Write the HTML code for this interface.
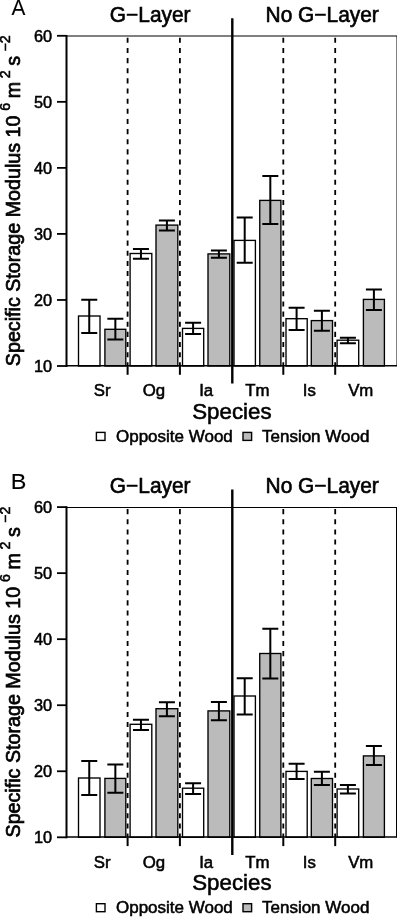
<!DOCTYPE html>
<html><head><meta charset="utf-8"><style>
html,body{margin:0;padding:0;background:#fff;}
svg{display:block;will-change:transform;}
text{font-family:"Liberation Sans", sans-serif;fill:#000;stroke:#000;}
</style></head><body>
<svg width="397" height="917" viewBox="0 0 397 917">
<rect width="397" height="917" fill="#fff"/>
<line x1="66" y1="36" x2="397" y2="36" stroke="#000" stroke-width="1"/>
<line x1="397" y1="36" x2="397" y2="366" stroke="#000" stroke-width="1"/>
<rect x="78.5" y="316" width="21.5" height="50" fill="#fff" stroke="#000" stroke-width="1.35"/>
<rect x="104.9" y="329.3" width="20.9" height="36.7" fill="#bbbbbb" stroke="#000" stroke-width="1.35"/>
<rect x="130.1" y="253.5" width="21.7" height="112.5" fill="#fff" stroke="#000" stroke-width="1.35"/>
<rect x="156" y="225.1" width="21.8" height="140.9" fill="#bbbbbb" stroke="#000" stroke-width="1.35"/>
<rect x="182.5" y="328.4" width="21.2" height="37.6" fill="#fff" stroke="#000" stroke-width="1.35"/>
<rect x="208" y="253.9" width="21.8" height="112.1" fill="#bbbbbb" stroke="#000" stroke-width="1.35"/>
<rect x="234" y="240.4" width="21.4" height="125.6" fill="#fff" stroke="#000" stroke-width="1.35"/>
<rect x="259.75" y="200.4" width="21.15" height="165.6" fill="#bbbbbb" stroke="#000" stroke-width="1.35"/>
<rect x="286" y="318.7" width="21.2" height="47.3" fill="#fff" stroke="#000" stroke-width="1.35"/>
<rect x="311.3" y="320.6" width="21.2" height="45.4" fill="#bbbbbb" stroke="#000" stroke-width="1.35"/>
<rect x="337.1" y="340.2" width="21.6" height="25.8" fill="#fff" stroke="#000" stroke-width="1.35"/>
<rect x="363.4" y="299.4" width="21" height="66.6" fill="#bbbbbb" stroke="#000" stroke-width="1.35"/>
<path d="M89.25 299.8V333.1M81.25 299.8H97.25M81.25 333.1H97.25" stroke="#000" stroke-width="2" fill="none"/>
<path d="M115.35 318.7V339.4M107.35 318.7H123.35M107.35 339.4H123.35" stroke="#000" stroke-width="2" fill="none"/>
<path d="M140.95 249V258.8M132.95 249H148.95M132.95 258.8H148.95" stroke="#000" stroke-width="2" fill="none"/>
<path d="M166.9 220.6V230.4M158.9 220.6H174.9M158.9 230.4H174.9" stroke="#000" stroke-width="2" fill="none"/>
<path d="M193.1 322.8V334M185.1 322.8H201.1M185.1 334H201.1" stroke="#000" stroke-width="2" fill="none"/>
<path d="M218.9 250.6V257.7M210.9 250.6H226.9M210.9 257.7H226.9" stroke="#000" stroke-width="2" fill="none"/>
<path d="M244.7 217.4V262.8M236.7 217.4H252.7M236.7 262.8H252.7" stroke="#000" stroke-width="2" fill="none"/>
<path d="M270.32 175.9V223.9M262.32 175.9H278.32M262.32 223.9H278.32" stroke="#000" stroke-width="2" fill="none"/>
<path d="M296.6 307.8V330.1M288.6 307.8H304.6M288.6 330.1H304.6" stroke="#000" stroke-width="2" fill="none"/>
<path d="M321.9 310.8V330.75M313.9 310.8H329.9M313.9 330.75H329.9" stroke="#000" stroke-width="2" fill="none"/>
<path d="M347.9 337.8V343.3M339.9 337.8H355.9M339.9 343.3H355.9" stroke="#000" stroke-width="2" fill="none"/>
<path d="M373.9 289.5V310M365.9 289.5H381.9M365.9 310H381.9" stroke="#000" stroke-width="2" fill="none"/>
<line x1="66" y1="365.7" x2="397" y2="365.7" stroke="#000" stroke-width="1.5"/>
<line x1="127.6" y1="37.8" x2="127.6" y2="366" stroke="#000" stroke-width="1.8" stroke-dasharray="5.07 5.07"/>
<line x1="127.6" y1="366" x2="127.6" y2="374.8" stroke="#000" stroke-width="2"/>
<line x1="179.9" y1="37.8" x2="179.9" y2="366" stroke="#000" stroke-width="1.8" stroke-dasharray="5.07 5.07"/>
<line x1="179.9" y1="366" x2="179.9" y2="374.8" stroke="#000" stroke-width="2"/>
<line x1="283.3" y1="37.8" x2="283.3" y2="366" stroke="#000" stroke-width="1.8" stroke-dasharray="5.07 5.07"/>
<line x1="283.3" y1="366" x2="283.3" y2="374.8" stroke="#000" stroke-width="2"/>
<line x1="335.2" y1="37.8" x2="335.2" y2="366" stroke="#000" stroke-width="1.8" stroke-dasharray="5.07 5.07"/>
<line x1="335.2" y1="366" x2="335.2" y2="374.8" stroke="#000" stroke-width="2"/>
<line x1="232.3" y1="18.2" x2="232.3" y2="383.6" stroke="#000" stroke-width="2.4"/>
<line x1="66.5" y1="35" x2="66.5" y2="367" stroke="#000" stroke-width="2"/>
<line x1="57" y1="366" x2="66.5" y2="366" stroke="#000" stroke-width="1.8"/>
<text transform="translate(52 371.9) scale(0.97 0.95)" font-size="16.8" stroke-width="0.55" text-anchor="end">10</text>
<line x1="57" y1="299.96" x2="66.5" y2="299.96" stroke="#000" stroke-width="1.8"/>
<text transform="translate(52 305.86) scale(0.97 0.95)" font-size="16.8" stroke-width="0.55" text-anchor="end">20</text>
<line x1="57" y1="233.92" x2="66.5" y2="233.92" stroke="#000" stroke-width="1.8"/>
<text transform="translate(52 239.82) scale(0.97 0.95)" font-size="16.8" stroke-width="0.55" text-anchor="end">30</text>
<line x1="57" y1="167.88" x2="66.5" y2="167.88" stroke="#000" stroke-width="1.8"/>
<text transform="translate(52 173.78) scale(0.97 0.95)" font-size="16.8" stroke-width="0.55" text-anchor="end">40</text>
<line x1="57" y1="101.84" x2="66.5" y2="101.84" stroke="#000" stroke-width="1.8"/>
<text transform="translate(52 107.74) scale(0.97 0.95)" font-size="16.8" stroke-width="0.55" text-anchor="end">50</text>
<line x1="57" y1="35.8" x2="66.5" y2="35.8" stroke="#000" stroke-width="1.8"/>
<text transform="translate(52 41.7) scale(0.97 0.95)" font-size="16.8" stroke-width="0.55" text-anchor="end">60</text>
<text transform="translate(102.15 396.3) scale(1 0.95)" font-size="16.8" stroke-width="0.55" text-anchor="middle">Sr</text>
<text transform="translate(153.95 396.3) scale(1 0.95)" font-size="16.8" stroke-width="0.55" text-anchor="middle">Og</text>
<text transform="translate(206.15 396.3) scale(1 0.95)" font-size="16.8" stroke-width="0.55" text-anchor="middle">Ia</text>
<text transform="translate(257.45 396.3) scale(1 0.95)" font-size="16.8" stroke-width="0.55" text-anchor="middle">Tm</text>
<text transform="translate(309.25 396.3) scale(1 0.95)" font-size="16.8" stroke-width="0.55" text-anchor="middle">Is</text>
<text transform="translate(360.75 396.3) scale(1 0.95)" font-size="16.8" stroke-width="0.55" text-anchor="middle">Vm</text>
<text transform="translate(231.9 418.9) scale(1 1.03)" font-size="22.3" stroke-width="0.55" text-anchor="middle">Species</text>
<rect x="96.4" y="432.4" width="8.6" height="8" fill="#fff" stroke="#000" stroke-width="1.4"/>
<text transform="translate(116 441.6) scale(1 0.94)" font-size="17.0" stroke-width="0.55">Opposite Wood</text>
<rect x="243" y="432.4" width="8.6" height="8" fill="#bbbbbb" stroke="#000" stroke-width="1.4"/>
<text transform="translate(262 441.6) scale(1 0.94)" font-size="17.0" stroke-width="0.55">Tension Wood</text>
<text transform="translate(150.2 21.6) scale(1 1.04)" font-size="20.9" stroke-width="0.6" text-anchor="middle">G−Layer</text>
<text transform="translate(322.2 21.6) scale(1 1.04)" font-size="20.9" stroke-width="0.6" text-anchor="middle">No G−Layer</text>
<text transform="translate(11.4 15.45) scale(0.97 1.03)" font-size="21.5" stroke-width="0.1">A</text>
<g transform="translate(19.9 0) rotate(-90)"><text transform="translate(-366.2 0) scale(1 1)" font-size="19.7" stroke-width="0.7">Specific Storage Modulus 10</text><text transform="translate(-110.8 -9.8) scale(1 1)" font-size="14.2" stroke-width="0.55">6</text><text transform="translate(-98.2 0) scale(1 1)" font-size="19.7" stroke-width="0.7">m</text><text transform="translate(-78.2 -9.8) scale(1 1)" font-size="14.2" stroke-width="0.55">2</text><text transform="translate(-65.8 0) scale(1 1)" font-size="19.7" stroke-width="0.7">s</text><text transform="translate(-51.6 -9.8) scale(1 1)" font-size="14.2" stroke-width="0.55">−2</text></g>
<line x1="66" y1="507.5" x2="397" y2="507.5" stroke="#000" stroke-width="1.2"/>
<line x1="396.5" y1="507.5" x2="396.5" y2="837.3" stroke="#000" stroke-width="1"/>
<rect x="78.5" y="778" width="21.5" height="59.3" fill="#fff" stroke="#000" stroke-width="1.35"/>
<rect x="104.9" y="778.4" width="20.9" height="58.9" fill="#bbbbbb" stroke="#000" stroke-width="1.35"/>
<rect x="130.1" y="724.3" width="21.7" height="113" fill="#fff" stroke="#000" stroke-width="1.35"/>
<rect x="156" y="708.7" width="21.8" height="128.6" fill="#bbbbbb" stroke="#000" stroke-width="1.35"/>
<rect x="182.5" y="788.2" width="21.2" height="49.1" fill="#fff" stroke="#000" stroke-width="1.35"/>
<rect x="208" y="710.9" width="21.8" height="126.4" fill="#bbbbbb" stroke="#000" stroke-width="1.35"/>
<rect x="234" y="696" width="21.4" height="141.3" fill="#fff" stroke="#000" stroke-width="1.35"/>
<rect x="259.75" y="653.5" width="21.15" height="183.8" fill="#bbbbbb" stroke="#000" stroke-width="1.35"/>
<rect x="286" y="771.4" width="21.2" height="65.9" fill="#fff" stroke="#000" stroke-width="1.35"/>
<rect x="311.3" y="778.5" width="21.2" height="58.8" fill="#bbbbbb" stroke="#000" stroke-width="1.35"/>
<rect x="337.1" y="789" width="21.6" height="48.3" fill="#fff" stroke="#000" stroke-width="1.35"/>
<rect x="363.4" y="755.9" width="21" height="81.4" fill="#bbbbbb" stroke="#000" stroke-width="1.35"/>
<path d="M89.25 761V794.9M81.25 761H97.25M81.25 794.9H97.25" stroke="#000" stroke-width="2" fill="none"/>
<path d="M115.35 764.4V792.8M107.35 764.4H123.35M107.35 792.8H123.35" stroke="#000" stroke-width="2" fill="none"/>
<path d="M140.95 719.7V729.9M132.95 719.7H148.95M132.95 729.9H148.95" stroke="#000" stroke-width="2" fill="none"/>
<path d="M166.9 702.2V716.3M158.9 702.2H174.9M158.9 716.3H174.9" stroke="#000" stroke-width="2" fill="none"/>
<path d="M193.1 783.2V794M185.1 783.2H201.1M185.1 794H201.1" stroke="#000" stroke-width="2" fill="none"/>
<path d="M218.9 702.1V720.2M210.9 702.1H226.9M210.9 720.2H226.9" stroke="#000" stroke-width="2" fill="none"/>
<path d="M244.7 678.2V714.5M236.7 678.2H252.7M236.7 714.5H252.7" stroke="#000" stroke-width="2" fill="none"/>
<path d="M270.32 628.8V678.6M262.32 628.8H278.32M262.32 678.6H278.32" stroke="#000" stroke-width="2" fill="none"/>
<path d="M296.6 763.7V779M288.6 763.7H304.6M288.6 779H304.6" stroke="#000" stroke-width="2" fill="none"/>
<path d="M321.9 771.7V785M313.9 771.7H329.9M313.9 785H329.9" stroke="#000" stroke-width="2" fill="none"/>
<path d="M347.9 785.1V793.5M339.9 785.1H355.9M339.9 793.5H355.9" stroke="#000" stroke-width="2" fill="none"/>
<path d="M373.9 745.9V764.9M365.9 745.9H381.9M365.9 764.9H381.9" stroke="#000" stroke-width="2" fill="none"/>
<line x1="66" y1="837" x2="397" y2="837" stroke="#000" stroke-width="1.5"/>
<line x1="127.6" y1="509.1" x2="127.6" y2="837.3" stroke="#000" stroke-width="1.8" stroke-dasharray="5.07 5.07"/>
<line x1="127.6" y1="837.3" x2="127.6" y2="846.1" stroke="#000" stroke-width="2"/>
<line x1="179.9" y1="509.1" x2="179.9" y2="837.3" stroke="#000" stroke-width="1.8" stroke-dasharray="5.07 5.07"/>
<line x1="179.9" y1="837.3" x2="179.9" y2="846.1" stroke="#000" stroke-width="2"/>
<line x1="283.3" y1="509.1" x2="283.3" y2="837.3" stroke="#000" stroke-width="1.8" stroke-dasharray="5.07 5.07"/>
<line x1="283.3" y1="837.3" x2="283.3" y2="846.1" stroke="#000" stroke-width="2"/>
<line x1="335.2" y1="509.1" x2="335.2" y2="837.3" stroke="#000" stroke-width="1.8" stroke-dasharray="5.07 5.07"/>
<line x1="335.2" y1="837.3" x2="335.2" y2="846.1" stroke="#000" stroke-width="2"/>
<line x1="232.3" y1="489.5" x2="232.3" y2="854.9" stroke="#000" stroke-width="2.4"/>
<line x1="66.5" y1="506.3" x2="66.5" y2="838.3" stroke="#000" stroke-width="2"/>
<line x1="57" y1="837.3" x2="66.5" y2="837.3" stroke="#000" stroke-width="1.8"/>
<text transform="translate(52 843.2) scale(0.97 0.95)" font-size="16.8" stroke-width="0.55" text-anchor="end">10</text>
<line x1="57" y1="771.26" x2="66.5" y2="771.26" stroke="#000" stroke-width="1.8"/>
<text transform="translate(52 777.16) scale(0.97 0.95)" font-size="16.8" stroke-width="0.55" text-anchor="end">20</text>
<line x1="57" y1="705.22" x2="66.5" y2="705.22" stroke="#000" stroke-width="1.8"/>
<text transform="translate(52 711.12) scale(0.97 0.95)" font-size="16.8" stroke-width="0.55" text-anchor="end">30</text>
<line x1="57" y1="639.18" x2="66.5" y2="639.18" stroke="#000" stroke-width="1.8"/>
<text transform="translate(52 645.08) scale(0.97 0.95)" font-size="16.8" stroke-width="0.55" text-anchor="end">40</text>
<line x1="57" y1="573.14" x2="66.5" y2="573.14" stroke="#000" stroke-width="1.8"/>
<text transform="translate(52 579.04) scale(0.97 0.95)" font-size="16.8" stroke-width="0.55" text-anchor="end">50</text>
<line x1="57" y1="507.1" x2="66.5" y2="507.1" stroke="#000" stroke-width="1.8"/>
<text transform="translate(52 513) scale(0.97 0.95)" font-size="16.8" stroke-width="0.55" text-anchor="end">60</text>
<text transform="translate(102.15 867.6) scale(1 0.95)" font-size="16.8" stroke-width="0.55" text-anchor="middle">Sr</text>
<text transform="translate(153.95 867.6) scale(1 0.95)" font-size="16.8" stroke-width="0.55" text-anchor="middle">Og</text>
<text transform="translate(206.15 867.6) scale(1 0.95)" font-size="16.8" stroke-width="0.55" text-anchor="middle">Ia</text>
<text transform="translate(257.45 867.6) scale(1 0.95)" font-size="16.8" stroke-width="0.55" text-anchor="middle">Tm</text>
<text transform="translate(309.25 867.6) scale(1 0.95)" font-size="16.8" stroke-width="0.55" text-anchor="middle">Is</text>
<text transform="translate(360.75 867.6) scale(1 0.95)" font-size="16.8" stroke-width="0.55" text-anchor="middle">Vm</text>
<text transform="translate(231.9 890.2) scale(1 1.03)" font-size="22.3" stroke-width="0.55" text-anchor="middle">Species</text>
<rect x="96.4" y="903.7" width="8.6" height="8" fill="#fff" stroke="#000" stroke-width="1.4"/>
<text transform="translate(116 912.9) scale(1 0.94)" font-size="17.0" stroke-width="0.55">Opposite Wood</text>
<rect x="243" y="903.7" width="8.6" height="8" fill="#bbbbbb" stroke="#000" stroke-width="1.4"/>
<text transform="translate(262 912.9) scale(1 0.94)" font-size="17.0" stroke-width="0.55">Tension Wood</text>
<text transform="translate(150.2 492.9) scale(1 1.04)" font-size="20.9" stroke-width="0.6" text-anchor="middle">G−Layer</text>
<text transform="translate(322.2 492.9) scale(1 1.04)" font-size="20.9" stroke-width="0.6" text-anchor="middle">No G−Layer</text>
<text transform="translate(10.7 488.8) scale(1.09 1.03)" font-size="21.5" stroke-width="0.1">B</text>
<g transform="translate(19.9 471.3) rotate(-90)"><text transform="translate(-366.2 0) scale(1 1)" font-size="19.7" stroke-width="0.7">Specific Storage Modulus 10</text><text transform="translate(-110.8 -9.8) scale(1 1)" font-size="14.2" stroke-width="0.55">6</text><text transform="translate(-98.2 0) scale(1 1)" font-size="19.7" stroke-width="0.7">m</text><text transform="translate(-78.2 -9.8) scale(1 1)" font-size="14.2" stroke-width="0.55">2</text><text transform="translate(-65.8 0) scale(1 1)" font-size="19.7" stroke-width="0.7">s</text><text transform="translate(-51.6 -9.8) scale(1 1)" font-size="14.2" stroke-width="0.55">−2</text></g>
</svg>
</body></html>
